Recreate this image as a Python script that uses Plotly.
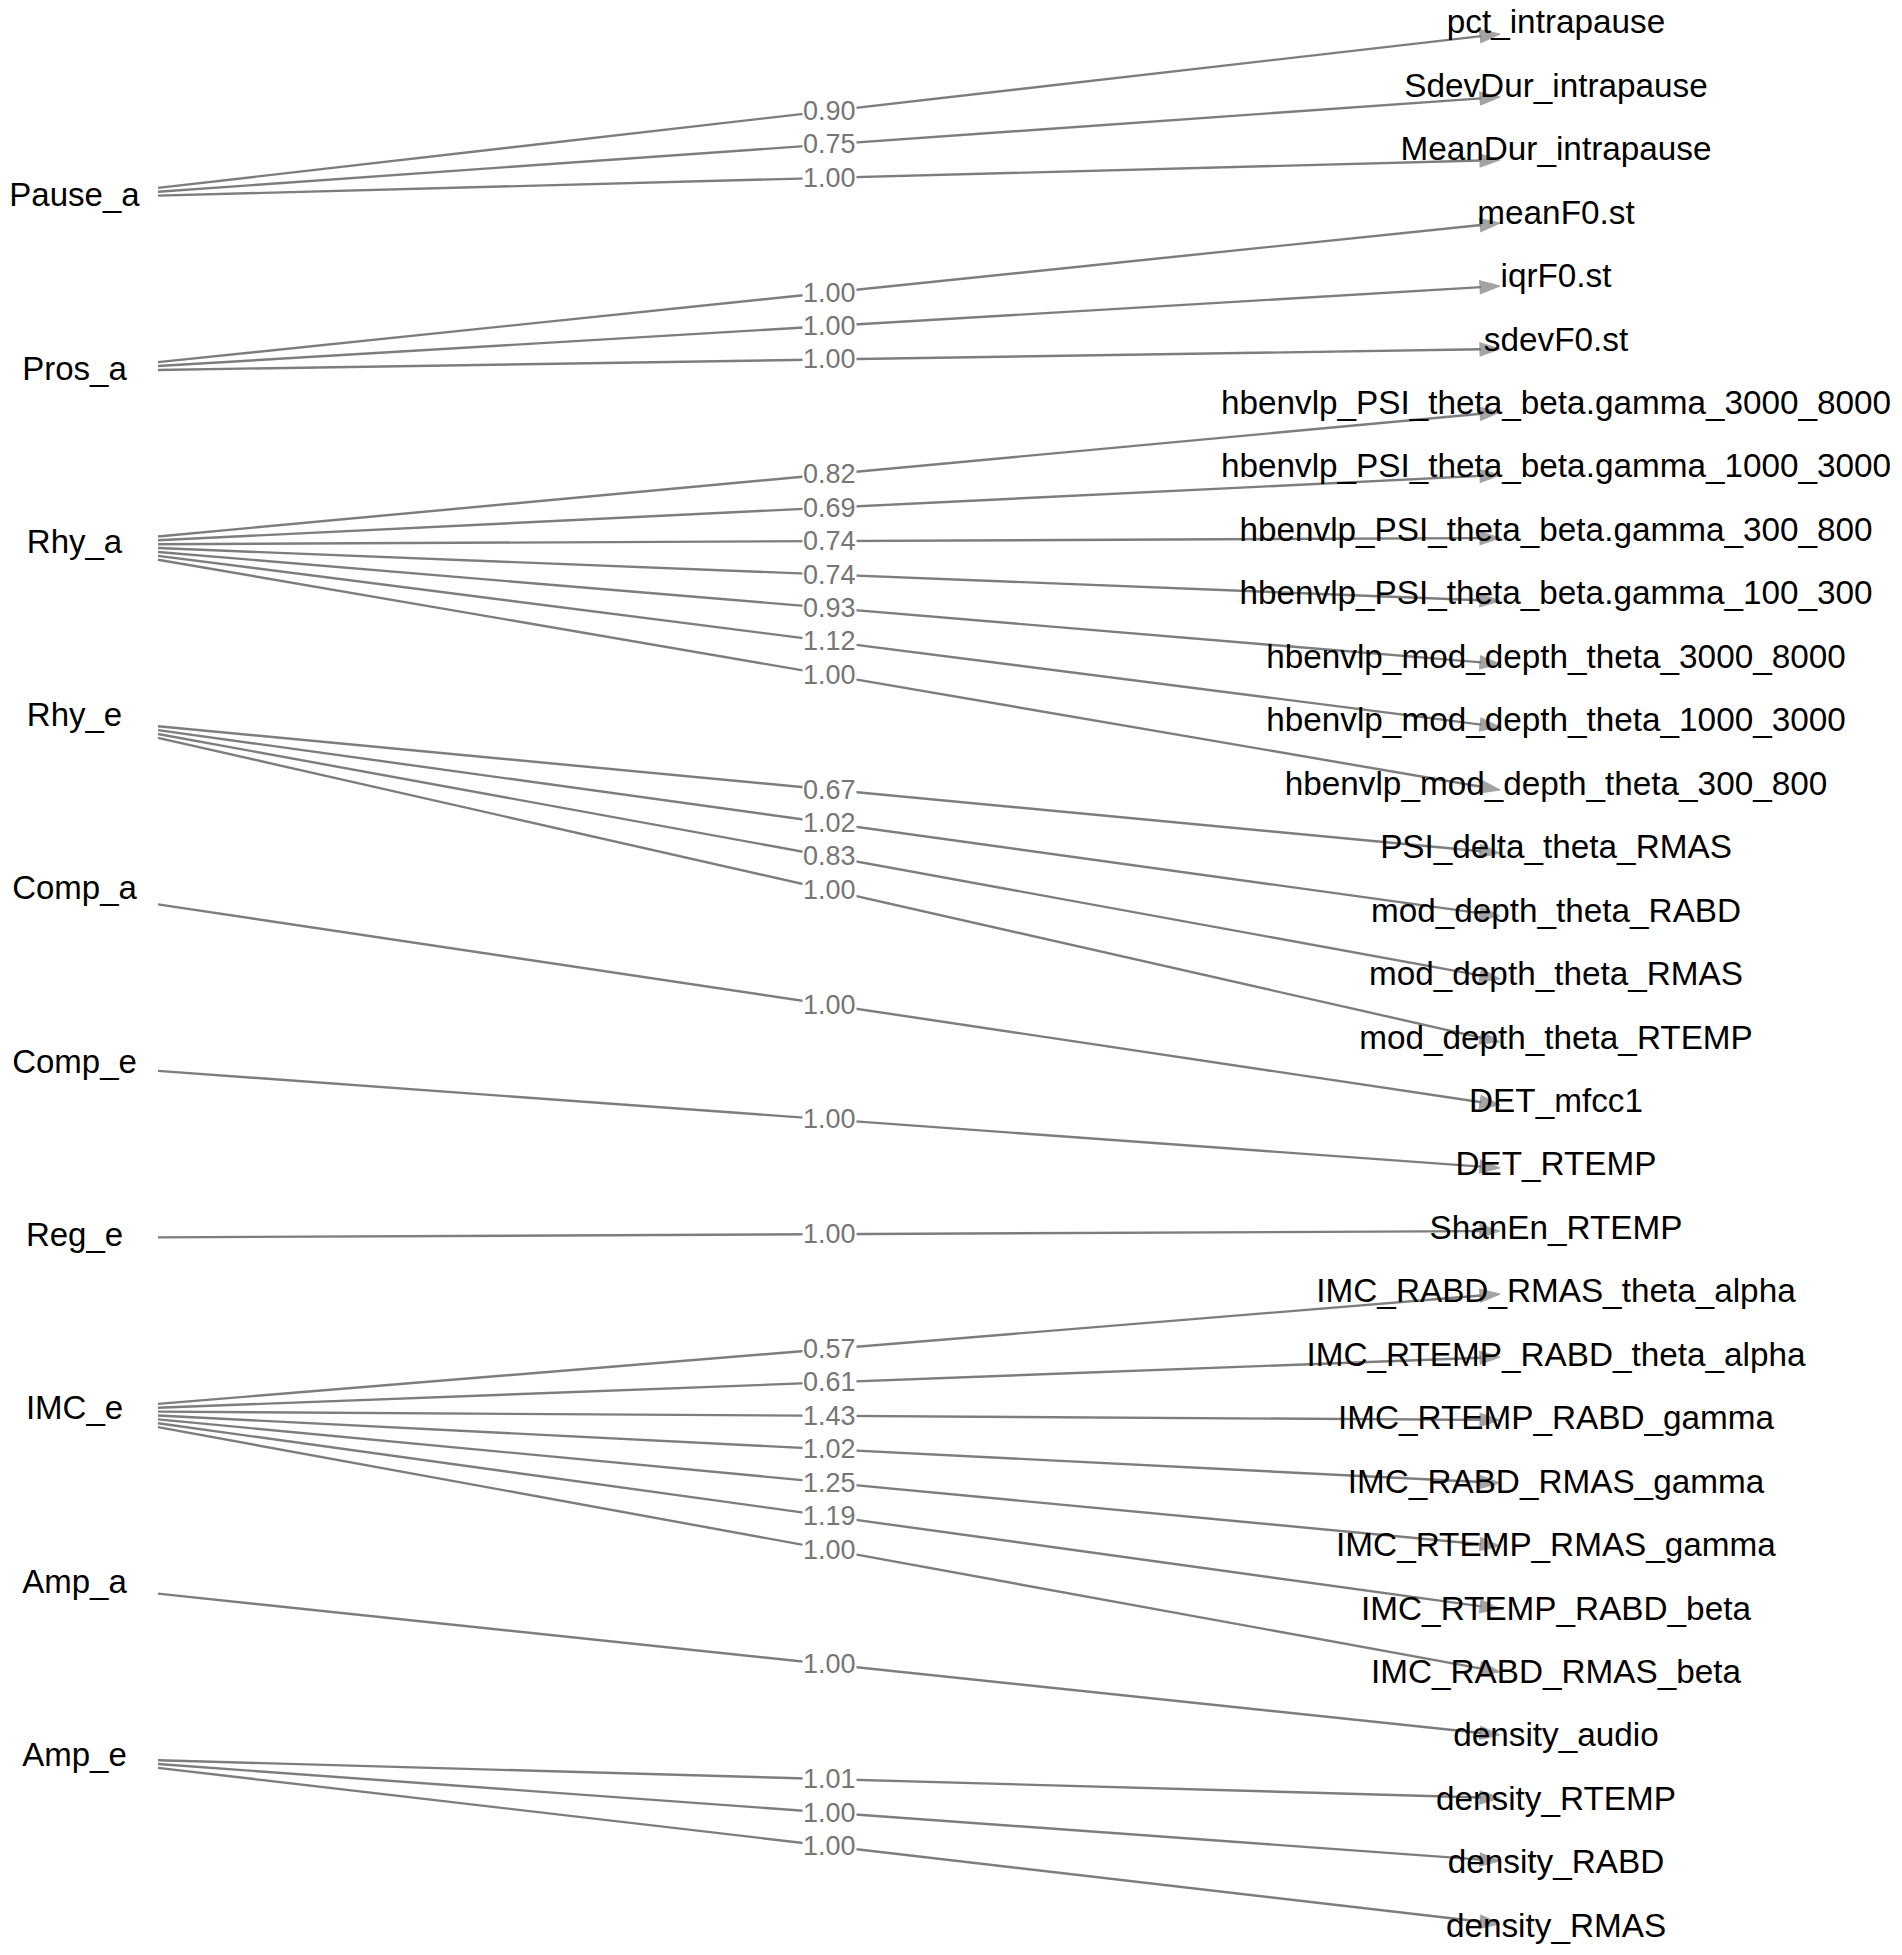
import plotly.graph_objects as go

# ---- data ----
latent = ["Pause_a", "Pros_a", "Rhy_a", "Rhy_e", "Comp_a", "Comp_e",
          "Reg_e", "IMC_e", "Amp_a", "Amp_e"]

indicators = [
    "pct_intrapause", "SdevDur_intrapause", "MeanDur_intrapause",
    "meanF0.st", "iqrF0.st", "sdevF0.st",
    "hbenvlp_PSI_theta_beta.gamma_3000_8000",
    "hbenvlp_PSI_theta_beta.gamma_1000_3000",
    "hbenvlp_PSI_theta_beta.gamma_300_800",
    "hbenvlp_PSI_theta_beta.gamma_100_300",
    "hbenvlp_mod_depth_theta_3000_8000",
    "hbenvlp_mod_depth_theta_1000_3000",
    "hbenvlp_mod_depth_theta_300_800",
    "PSI_delta_theta_RMAS", "mod_depth_theta_RABD",
    "mod_depth_theta_RMAS", "mod_depth_theta_RTEMP",
    "DET_mfcc1", "DET_RTEMP", "ShanEn_RTEMP",
    "IMC_RABD_RMAS_theta_alpha", "IMC_RTEMP_RABD_theta_alpha",
    "IMC_RTEMP_RABD_gamma", "IMC_RABD_RMAS_gamma",
    "IMC_RTEMP_RMAS_gamma", "IMC_RTEMP_RABD_beta", "IMC_RABD_RMAS_beta",
    "density_audio", "density_RTEMP", "density_RABD", "density_RMAS",
]

edge_from = (["Pause_a"] * 3 + ["Pros_a"] * 3 + ["Rhy_a"] * 7 + ["Rhy_e"] * 4
             + ["Comp_a", "Comp_e", "Reg_e"] + ["IMC_e"] * 7 + ["Amp_a"]
             + ["Amp_e"] * 3)
edge_to = list(indicators)
loadings = [0.90, 0.75, 1.00,
            1.00, 1.00, 1.00,
            0.82, 0.69, 0.74, 0.74, 0.93, 1.12, 1.00,
            0.67, 1.02, 0.83, 1.00,
            1.00, 1.00, 1.00,
            0.57, 0.61, 1.43, 1.02, 1.25, 1.19, 1.00,
            1.00,
            1.01, 1.00, 1.00]

# ---- layout geometry (pixels of the page) ----
FIG_W, FIG_H = 1902, 1955
LEFT_X, SRC_X, START_X = 74.5, 70.0, 158.0
TIP_X, RIGHT_X = 1500.0, 1556.0
LINE_COL = "rgb(125,125,125)"
LABEL_COL = "rgb(118,118,118)"
FONT = "Liberation Sans, Arial, Helvetica, sans-serif"


def left_y(i):
    return 198.0 + 173.3 * i


def right_text_y(k):
    return 25.0 + 63.45 * k


def tip_y(k):
    return 34.0 + 63.0 * k


fig = go.Figure()
annotations = []

for src, dst, w in zip(edge_from, edge_to, loadings):
    i = latent.index(src)
    k = indicators.index(dst)
    sy = left_y(i)
    ty = tip_y(k)
    y0 = sy + (ty - sy) * (START_X - SRC_X) / (TIP_X - SRC_X)
    fig.add_trace(go.Scatter(
        x=[START_X, TIP_X], y=[y0, ty], mode="lines+markers",
        line=dict(color=LINE_COL, width=2.4),
        marker=dict(symbol="arrow", size=[0, 21], angleref="previous",
                    color=LINE_COL, line=dict(color=LINE_COL, width=1.2)),
        cliponaxis=False, hoverinfo="skip", showlegend=False))
    annotations.append(dict(
        x=(START_X + TIP_X) / 2, y=(y0 + ty) / 2, xref="x", yref="y",
        text=f"{w:.2f}", showarrow=False, bgcolor="white", borderpad=0,
        font=dict(family=FONT, size=27, color=LABEL_COL)))

fig.add_trace(go.Scatter(
    x=[LEFT_X] * len(latent), y=[left_y(i) for i in range(len(latent))],
    mode="text", text=latent, textposition="middle center",
    textfont=dict(family=FONT, size=33, color="black"),
    cliponaxis=False, hoverinfo="skip", showlegend=False))

fig.add_trace(go.Scatter(
    x=[RIGHT_X] * len(indicators),
    y=[right_text_y(k) for k in range(len(indicators))],
    mode="text", text=indicators, textposition="middle center",
    textfont=dict(family=FONT, size=33.3, color="black"),
    cliponaxis=False, hoverinfo="skip", showlegend=False))

fig.update_layout(
    width=FIG_W, height=FIG_H, autosize=False,
    margin=dict(l=0, r=0, t=0, b=0),
    paper_bgcolor="white", plot_bgcolor="white",
    xaxis=dict(range=[0, FIG_W], visible=False, fixedrange=True),
    yaxis=dict(range=[FIG_H, 0], visible=False, fixedrange=True),
    annotations=annotations,
)

fig.write_html("out.html",
               config={"displayModeBar": False, "staticPlot": True},
               post_script="document.body.style.margin='0';"
                           "document.body.style.overflow='hidden';")
